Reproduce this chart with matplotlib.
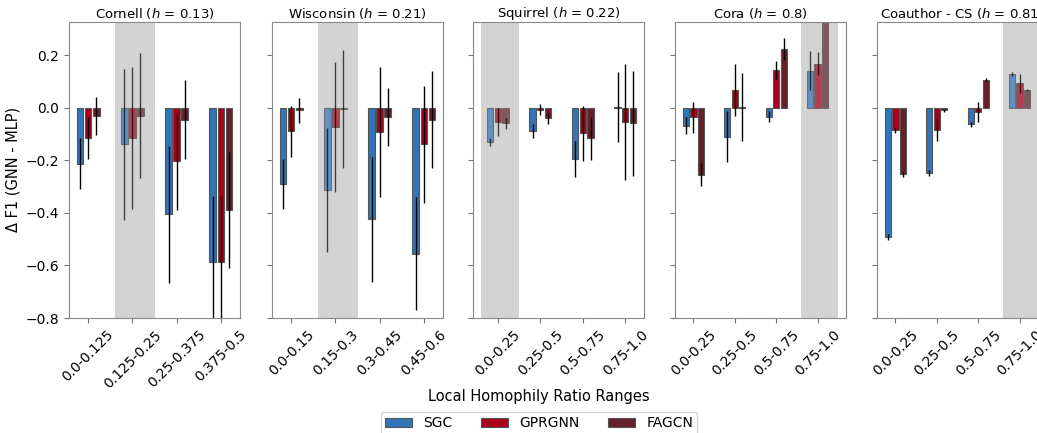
import numpy as np
import matplotlib
matplotlib.use("Agg")
import matplotlib.pyplot as plt

# dados
modelos = ["SGC", "GPRGNN", "FAGCN"]
cores = ["#3274b8", "#a8001a", "#65202a"]

titulos = ["Cornell ($h$ = 0.13)", "Wisconsin ($h$ = 0.21)", "Squirrel ($h$ = 0.22)",
           "Cora ($h$ = 0.8)", "Coauthor - CS ($h$ = 0.81)"]

faixas_cornell = ["0.0-0.125", "0.125-0.25", "0.25-0.375", "0.375-0.5"]
faixas_wisconsin = ["0.0-0.15", "0.15-0.3", "0.3-0.45", "0.45-0.6"]
faixas_padrao = ["0.0-0.25", "0.25-0.5", "0.5-0.75", "0.75-1.0"]

# indice da faixa que contem o h global (fundo cinza)
faixa_global = [1, 1, 0, 3, 3]

# medias: linhas = SGC, GPRGNN, FAGCN
cornell_media = [[-0.213, -0.139, -0.406, -0.587],
                 [-0.117, -0.115, -0.204, -0.587],
                 [-0.032, -0.030, -0.045, -0.390]]
cornell_erro = [[0.097, 0.287, 0.260, 0.250],
                [0.080, 0.270, 0.185, 0.250],
                [0.072, 0.238, 0.150, 0.220]]

wisconsin_media = [[-0.289, -0.312, -0.425, -0.556],
                   [-0.090, -0.073, -0.094, -0.140],
                   [-0.010, -0.006, -0.035, -0.045]]
wisconsin_erro = [[0.095, 0.236, 0.238, 0.215],
                  [0.097, 0.246, 0.247, 0.224],
                  [0.047, 0.224, 0.110, 0.186]]

squirrel_media = [[-0.130, -0.088, -0.194, 0.003],
                  [-0.054, -0.007, -0.098, -0.054],
                  [-0.060, -0.041, -0.117, -0.060]]
squirrel_erro = [[0.016, 0.027, 0.068, 0.133],
                 [0.052, 0.021, 0.105, 0.220],
                 [0.021, 0.022, 0.081, 0.200]]

cora_media = [[-0.068, -0.111, -0.035, 0.140],
              [-0.037, 0.067, 0.143, 0.168],
              [-0.255, 0.003, 0.223, 0.400]]
cora_erro = [[0.032, 0.097, 0.021, 0.074],
             [0.059, 0.099, 0.033, 0.044],
             [0.043, 0.130, 0.041, 0.050]]

cs_media = [[-0.492, -0.248, -0.064, 0.128],
            [-0.086, -0.086, -0.018, 0.092],
            [-0.253, -0.010, 0.107, 0.067]]
cs_erro = [[0.010, 0.012, 0.010, 0.008],
           [0.010, 0.042, 0.038, 0.036],
           [0.010, 0.005, 0.004, 0.003]]

medias = [cornell_media, wisconsin_media, squirrel_media, cora_media, cs_media]
erros = [cornell_erro, wisconsin_erro, squirrel_erro, cora_erro, cs_erro]
faixas = [faixas_cornell, faixas_wisconsin, faixas_padrao, faixas_padrao, faixas_padrao]

W, H = 1037, 433
fig = plt.figure(figsize=(W / 100, H / 100), dpi=100)

esquerdas = [69, 272, 473, 675, 877]
largura_px = 171
baixo = 1 - 318 / H
altura = (318 - 21.7) / H

largura_barra = 0.15
desloc = [-0.182, 0.0, 0.182]

eixos = []
for k in range(5):
    ax = fig.add_axes([esquerdas[k] / W, baixo, largura_px / W, altura])
    eixos.append(ax)
    x = np.arange(4)
    g = faixa_global[k]
    ax.axvspan(g - 0.4, g + 0.5, color="lightgray", zorder=0, lw=0)
    for m in range(3):
        for i in range(4):
            a = 0.7 if i == g else 1.0
            ax.bar(x[i] + desloc[m], medias[k][m][i], width=largura_barra,
                   color=cores[m], edgecolor="#555555", linewidth=0.8, alpha=a,
                   yerr=erros[k][m][i],
                   error_kw=dict(ecolor="black", elinewidth=1, capsize=0, alpha=a),
                   label=modelos[m] if (k == 0 and i == 0) else None, zorder=2)
    ax.set_ylim(-0.8, 0.327)
    ax.set_yticks([-0.8, -0.6, -0.4, -0.2, 0.0, 0.2])
    ax.set_xticks(x)
    ax.set_xticklabels(faixas[k], rotation=45, fontsize=10)
    ax.set_title(titulos[k], fontsize=9.5, pad=3)
    ax.tick_params(axis="y", labelsize=10, color="#777777")
    ax.tick_params(axis="x", color="#777777")
    for s in ax.spines.values():
        s.set_color("#888888")
    if k > 0:
        ax.set_yticklabels([])

eixos[0].set_ylabel("Δ F1 (GNN - MLP)", fontsize=10.5)

fig.text(539 / W, 1 - 397 / H, "Local Homophily Ratio Ranges", ha="center", va="center", fontsize=10.5)

fig.legend(loc="upper center", bbox_to_anchor=(539 / W, 1 - 405 / H), ncol=3,
           fontsize=10, frameon=True, columnspacing=2.0, borderpad=0.3,
           handleheight=0.6)

plt.savefig("out.png", dpi=100)
